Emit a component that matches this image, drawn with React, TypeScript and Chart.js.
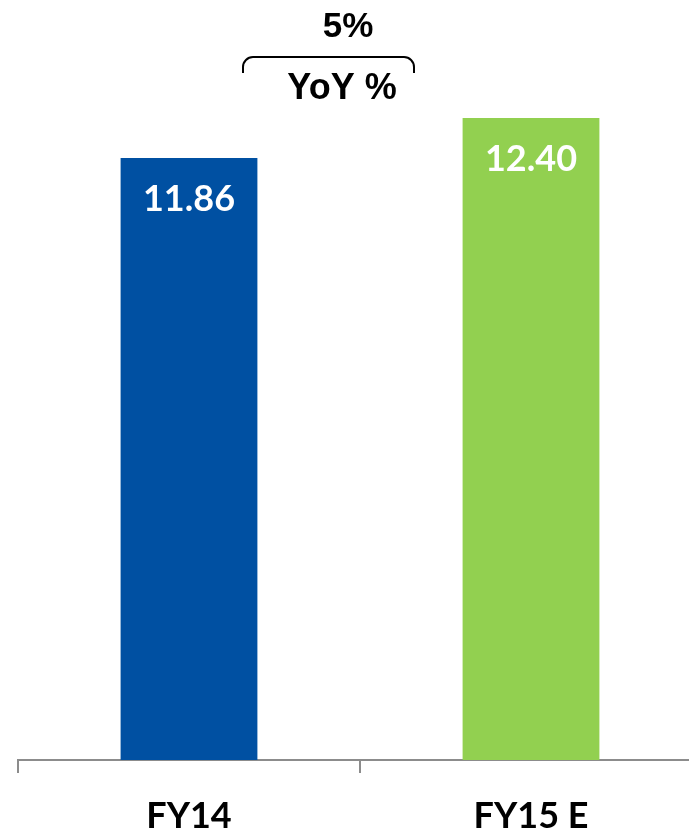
import React, { useEffect, useRef } from "react";
import { Chart, registerables } from "chart.js";

Chart.register(...registerables);

const categories = ["FY14", "FY15 E"];
const values = [11.86, 12.4];
const valueLabels = ["11.86", "12.40"];
const barColors = ["#0050A2", "#92D050"];
const yoyValue = "5%";
const yoyLabel = "YoY %";

export default function App() {
  const ref = useRef<HTMLCanvasElement>(null);

  useEffect(() => {
    if (!ref.current) return;
    const labelPlugin = {
      id: "valueLabels",
      afterDatasetsDraw(chart: any) {
        const ctx = chart.ctx;
        const meta = chart.getDatasetMeta(0);
        ctx.save();
        ctx.fillStyle = "#ffffff";
        ctx.font = "bold 36px Lato";
        ctx.textAlign = "center";
        ctx.textBaseline = "middle";
        meta.data.forEach((bar: any, i: number) => {
          ctx.fillText(valueLabels[i], bar.x, bar.y + 41);
        });
        ctx.restore();
      },
      afterDraw(chart: any) {
        const ctx = chart.ctx;
        ctx.save();
        ctx.fillStyle = "#000000";
        ctx.textAlign = "center";
        ctx.textBaseline = "middle";
        ctx.font = "bold 35px 'Liberation Sans', Arial";
        ctx.fillText(yoyValue, 348, 27);
        ctx.font = "bold 36px 'Liberation Sans', Arial";
        ctx.fillText(yoyLabel, 342, 89);
        // bracket
        ctx.strokeStyle = "#000000";
        ctx.lineWidth = 2;
        ctx.beginPath();
        ctx.moveTo(243, 73);
        ctx.arcTo(243, 57, 258, 57, 10);
        ctx.arcTo(414, 57, 414, 73, 10);
        ctx.lineTo(414, 73);
        ctx.stroke();
        ctx.restore();
      },
    };

    const chart = new Chart(ref.current, {
      type: "bar",
      data: {
        labels: categories,
        datasets: [
          {
            data: values,
            backgroundColor: barColors,
            borderWidth: 0,
            barPercentage: 0.4,
            categoryPercentage: 1,
          },
        ],
      },
      options: {
        responsive: false,
        animation: false,
        layout: { padding: { left: 18, right: 18, top: 0, bottom: 0 } },
        plugins: { legend: { display: false }, tooltip: { enabled: false } },
        scales: {
          y: { display: false, min: 3.7, max: 14 },
          x: {
            afterFit: (scale: any) => {
              scale.height = 71;
            },
            grid: {
              display: true,
              offset: true,
              drawOnChartArea: false,
              drawTicks: true,
              tickLength: 13,
              color: "#8c8c8c",
              lineWidth: 2,
            },
            border: { display: true, color: "#8c8c8c", width: 2 },
            ticks: {
              color: "#000000",
              padding: 22,
              font: { family: "Lato", size: 36, weight: "bold" },
            },
          },
        },
      },
      plugins: [labelPlugin],
    });
    return () => chart.destroy();
  }, []);

  return (
    <div
      style={{
        position: "fixed",
        left: 0,
        top: 0,
        width: 689,
        height: 831,
        overflow: "hidden",
        background: "#ffffff",
      }}
    >
      <canvas ref={ref} width={720} height={831} style={{ display: "block" }} />
    </div>
  );
}
